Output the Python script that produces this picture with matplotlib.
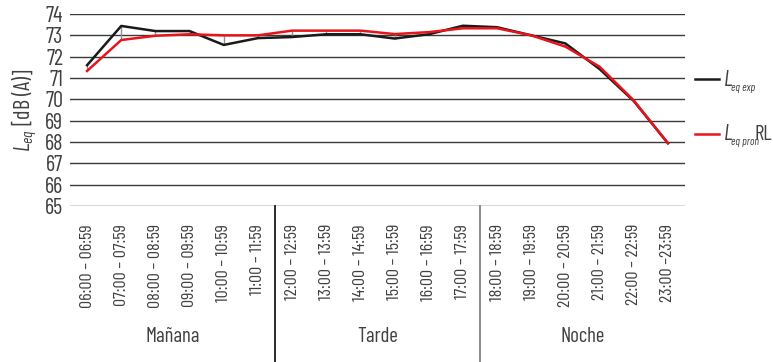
import matplotlib
matplotlib.use("Agg")
import matplotlib.pyplot as plt
from matplotlib import font_manager
import matplotlib.transforms as mtransforms

names = {f.name for f in font_manager.fontManager.ttflist}
CANDIDATES = ["Barlow Condensed", "Sofia Sans Condensed", "Saira Condensed",
              "Roboto Condensed", "Open Sans Condensed", "PT Sans Narrow",
              "Fira Sans Condensed", "Archivo Narrow", "Liberation Sans Narrow"]
FONT = next((c for c in CANDIDATES if c in names), "DejaVu Sans")
plt.rcParams['font.family'] = [FONT, 'DejaVu Sans']
plt.rcParams['mathtext.fontset'] = 'custom'
plt.rcParams['mathtext.it'] = FONT + ':italic'
plt.rcParams['mathtext.rm'] = FONT

categories = ["06:00 – 06:59", "07:00 – 07:59", "08:00 – 08:59", "09:00 – 09:59",
              "10:00 – 10:59", "11:00 – 11:59", "12:00 – 12:59", "13:00 – 13:59",
              "14:00 – 14:59", "15:00 – 15:59", "16:00 – 16:59", "17:00 – 17:59",
              "18:00 – 18:59", "19:00 – 19:59", "20:00 – 20:59", "21:00 – 21:59",
              "22:00 – 22:59", "23:00 –23:59"]
leq_exp = [71.6, 73.44, 73.2, 73.2, 72.55, 72.87, 72.92, 73.05, 73.05, 72.85,
           73.05, 73.45, 73.38, 73.0, 72.62, 71.42, 69.92, 67.94]
leq_pron = [71.33, 72.78, 72.98, 73.05, 73.0, 73.0, 73.22, 73.22, 73.22, 73.06,
            73.15, 73.33, 73.33, 73.0, 72.47, 71.53, 69.95, 67.95]
groups = ["Mañana", "Tarde", "Noche"]
group_sizes = [6, 6, 6]
yticks = [65, 66, 67, 68, 69, 70, 71, 72, 73, 74]

TXT = '#404040'
fig = plt.figure(figsize=(7.73, 3.62), dpi=100)
ax = fig.add_axes([70/773, 1-206/362, 615/773, 192/362])
x = list(range(len(categories)))

for v in yticks:
    ax.axhline(v, color='#3a3a3a', lw=1.0, zorder=1)

lo = [min(a, b) for a, b in zip(leq_exp, leq_pron)]
hi = [max(a, b) for a, b in zip(leq_exp, leq_pron)]
ax.vlines(x, lo, hi, color='#909090', lw=1.0, zorder=2)
ax.plot(x, leq_exp, color='#1a1a1a', lw=1.8, zorder=3)
ax.plot(x, leq_pron, color='#e8141c', lw=1.8, zorder=4)

ax.set_xlim(-0.5, len(categories)-0.5)
ax.set_ylim(65, 74)
ax.set_yticks(yticks)
ax.set_yticklabels([str(v) for v in yticks], fontsize=16, color=TXT)
ax.set_xticks(x)
ax.set_xticklabels(categories, rotation=90, fontsize=13, color=TXT, va='top')
ax.tick_params(length=0, pad=5)
ax.tick_params(axis='x', pad=13)
for s in ax.spines.values():
    s.set_visible(False)

ax.set_ylabel(r'$\mathit{L}_{\mathit{eq}}$ [dB (A)]', fontsize=16, color=TXT, labelpad=4)

trans = mtransforms.blended_transform_factory(ax.transData, fig.transFigure)
start = 0
bottom_ax = 1-206/362
for i, (g, n) in enumerate(zip(groups, group_sizes)):
    center = start + (n-1)/2
    fig.text(center, 1-336/362, g, transform=trans, fontsize=15, color=TXT,
             ha='center', va='center')
    if i > 0:
        col = '#1a1a1a' if i == 1 else '#808080'
        ax.plot([start-0.5, start-0.5], [0, bottom_ax], transform=trans, color=col,
                lw=1.3, clip_on=False)
    start += n

# legend built from pieces
fig.add_artist(plt.Line2D([695/773, 719/773], [1-79/362, 1-79/362], color='#1a1a1a', lw=1.8))
fig.add_artist(plt.Line2D([695/773, 719/773], [1-134/362, 1-134/362], color='#e8141c', lw=1.8))
H = 362
fig.text(724/773, 1-86/H, 'L', fontsize=16, style='italic', color=TXT, va='baseline')
fig.text(731/773, 1-91/H, 'eq exp', fontsize=8, style='italic', color=TXT, va='baseline')
fig.text(724/773, 1-140/H, 'L', fontsize=16, style='italic', color=TXT, va='baseline')
fig.text(731/773, 1-145/H, 'eq pron', fontsize=8, style='italic', color=TXT, va='baseline')
fig.text(755/773, 1-140/H, 'RL', fontsize=15, color=TXT, va='baseline')

fig.savefig('out.png', dpi=100)
